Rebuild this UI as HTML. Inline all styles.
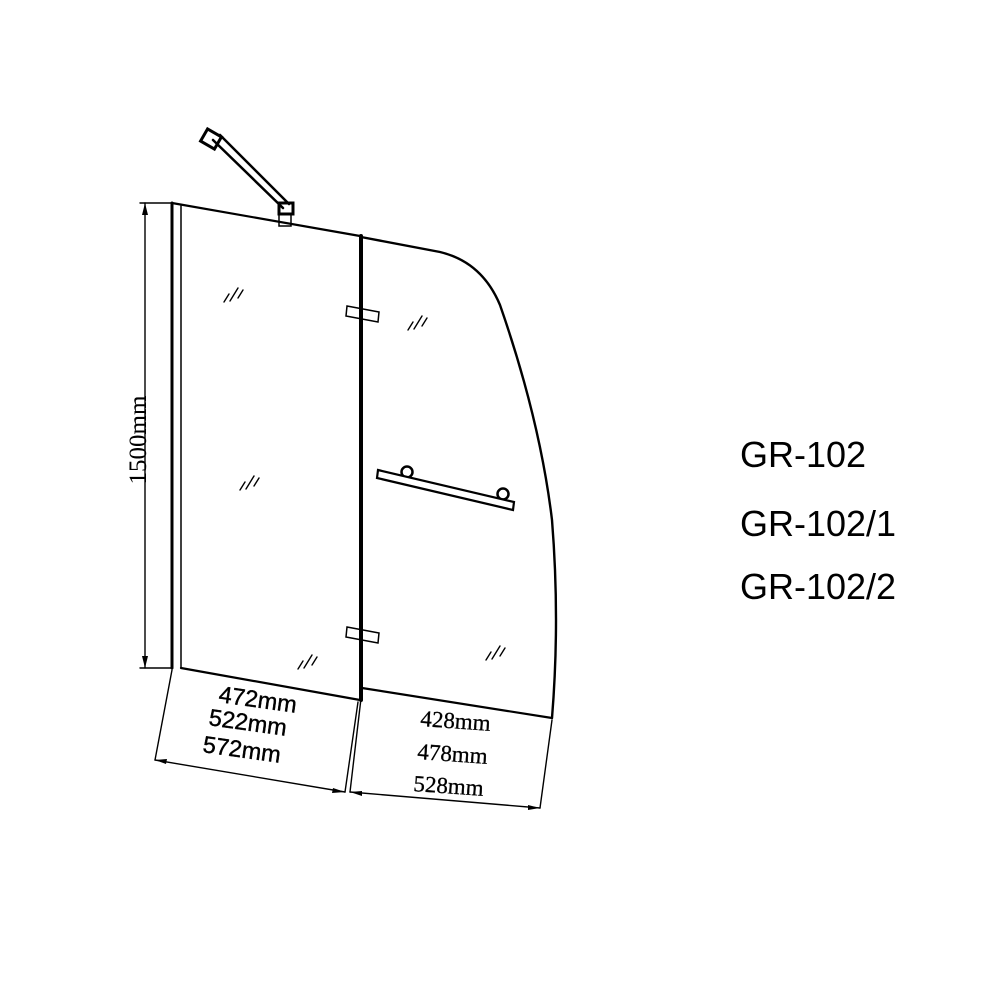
<!DOCTYPE html>
<html><head><style>body{margin:0;background:#fff}svg{display:block}</style></head>
<body>
<svg width="1000" height="1000" viewBox="0 0 1000 1000" xmlns="http://www.w3.org/2000/svg">
<g fill="none" stroke="#000" stroke-linecap="round">
<line x1="172" y1="203" x2="172" y2="668" stroke-width="3"/>
<line x1="181" y1="206" x2="181" y2="668" stroke-width="1.5"/>
<line x1="172" y1="203" x2="360" y2="236" stroke-width="2.2"/>
<line x1="181" y1="668" x2="360" y2="700" stroke-width="2.2"/>
<line x1="361" y1="236" x2="361" y2="700" stroke-width="4"/>
<path d="M361,237 L440,252 Q482,262 500,305 Q540,420 552,520 Q560,620 552,718" stroke-width="2.4"/>
<line x1="362" y1="688" x2="552" y2="718" stroke-width="2.2"/>
<polygon points="347,306 379,312 378,322 346,316" stroke-width="1.5" fill="#fff"/>
<polygon points="347,627 379,633 378,643 346,637" stroke-width="1.5" fill="#fff"/>
<line x1="361" y1="300" x2="361" y2="330" stroke-width="4"/>
<line x1="361" y1="620" x2="361" y2="650" stroke-width="4"/>
<circle cx="407" cy="472" r="5.5" stroke-width="2.5" fill="#fff"/>
<circle cx="503" cy="494" r="5.5" stroke-width="2.5" fill="#fff"/>
<polygon points="378,470 514,502 513,510 377,478" stroke-width="2.2" fill="#fff"/>
<line x1="213" y1="140" x2="283" y2="208" stroke-width="2.5"/>
<line x1="220" y1="135" x2="289" y2="204" stroke-width="2.5"/>
<rect x="203" y="132" width="16" height="14" stroke-width="3" transform="rotate(30 211 139)"/>
<rect x="279" y="203" width="14" height="11" stroke-width="3"/>
<rect x="279" y="214" width="12" height="12" stroke-width="1.5"/>
<g stroke-width="1.4">
<path d="M224,302 l5,-8 M230,301 l8,-13 M238,298 l5,-8"/>
<path d="M240,490 l5,-8 M246,489 l8,-13 M254,486 l5,-8"/>
<path d="M298,669 l5,-8 M304,668 l8,-13 M312,665 l5,-8"/>
<path d="M408,330 l5,-8 M414,329 l8,-13 M422,326 l5,-8"/>
<path d="M486,660 l5,-8 M492,659 l8,-13 M500,656 l5,-8"/>
</g>
<g stroke-width="1.4">
<line x1="140" y1="203" x2="172" y2="203"/>
<line x1="140" y1="668" x2="172" y2="668"/>
<line x1="145" y1="203" x2="145" y2="668"/>
<line x1="172" y1="670" x2="155" y2="760"/>
<line x1="358" y1="702" x2="345" y2="792"/>
<line x1="155" y1="760" x2="345" y2="792"/>
<line x1="362" y1="690" x2="350" y2="792"/>
<line x1="552" y1="720" x2="540" y2="808"/>
<line x1="350" y1="792" x2="540" y2="808"/>
</g>
</g>
<g fill="#000">
<polygon points="145,203 142,215 148,215"/>
<polygon points="145,668 142,656 148,656"/>
<polygon points="155,760 167,759 166,764"/>
<polygon points="345,792 333,788 332,793"/>
<polygon points="350,792 362,791 362,796"/>
<polygon points="540,808 528,805 528,810"/>
</g>
<text transform="translate(146,440) rotate(-90)" text-anchor="middle" font-family="Liberation Serif, serif" font-size="25">1500mm</text>
<g font-family="Liberation Sans, sans-serif" font-size="23.5" fill="#000" stroke="#000" stroke-width="0.4">
<text x="218" y="702" transform="rotate(8 218 702)">472mm</text>
<text x="208" y="725" transform="rotate(8 208 725)">522mm</text>
<text x="202" y="752" transform="rotate(8 202 752)">572mm</text>
</g>
<g font-family="Liberation Serif, serif" font-size="23" fill="#000" stroke="#000" stroke-width="0.3">
<text x="420" y="726" transform="rotate(4 420 726)">428mm</text>
<text x="417" y="759" transform="rotate(4 417 759)">478mm</text>
<text x="413" y="791" transform="rotate(4 413 791)">528mm</text>
</g>
<g font-family="Liberation Sans, sans-serif" font-size="36" fill="#000">
<text x="740" y="467">GR-102</text>
<text x="740" y="536">GR-102/1</text>
<text x="740" y="599">GR-102/2</text>
</g>
</svg>
</body></html>
